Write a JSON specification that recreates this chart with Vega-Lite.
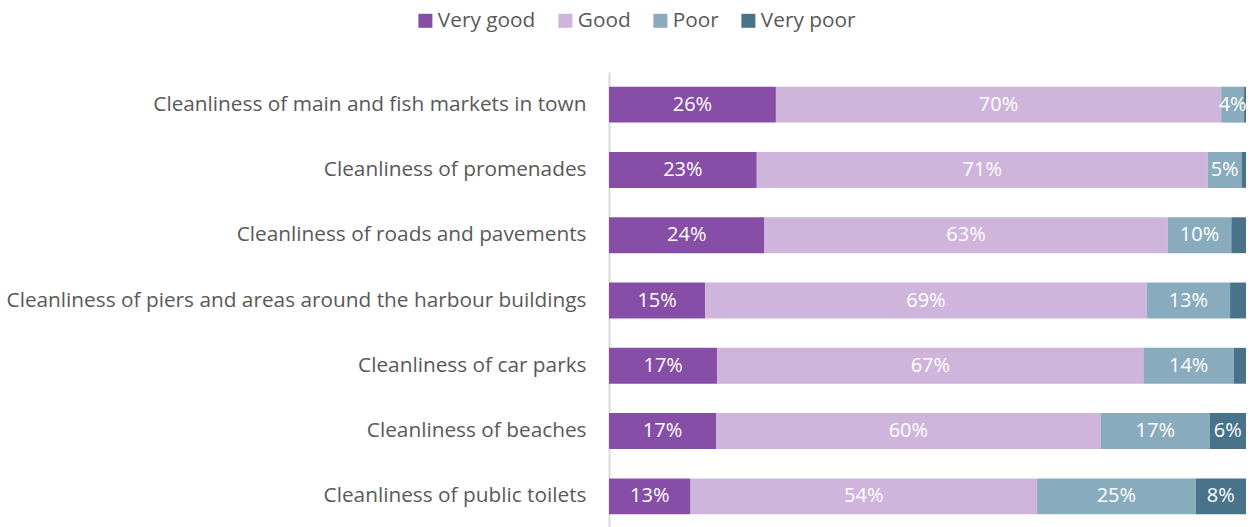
{
  "$schema": "https://vega.github.io/schema/vega-lite/v6.json",
  "width": 637,
  "height": 457,
  "autosize": {"type": "none"},
  "padding": {"left": 609, "top": 72, "right": 6, "bottom": 0},
  "background": "white",
  "config": {"font": "Open Sans", "view": {"stroke": null}},
  "data": {"values": [
    {"item": "Cleanliness of main and fish markets in town", "rating": "Very good", "rank": 1, "value": 0.262},
    {"item": "Cleanliness of main and fish markets in town", "rating": "Good", "rank": 2, "value": 0.699},
    {"item": "Cleanliness of main and fish markets in town", "rating": "Poor", "rank": 3, "value": 0.036},
    {"item": "Cleanliness of main and fish markets in town", "rating": "Very poor", "rank": 4, "value": 0.003},
    {"item": "Cleanliness of promenades", "rating": "Very good", "rank": 1, "value": 0.232},
    {"item": "Cleanliness of promenades", "rating": "Good", "rank": 2, "value": 0.708},
    {"item": "Cleanliness of promenades", "rating": "Poor", "rank": 3, "value": 0.053},
    {"item": "Cleanliness of promenades", "rating": "Very poor", "rank": 4, "value": 0.007},
    {"item": "Cleanliness of roads and pavements", "rating": "Very good", "rank": 1, "value": 0.244},
    {"item": "Cleanliness of roads and pavements", "rating": "Good", "rank": 2, "value": 0.633},
    {"item": "Cleanliness of roads and pavements", "rating": "Poor", "rank": 3, "value": 0.100},
    {"item": "Cleanliness of roads and pavements", "rating": "Very poor", "rank": 4, "value": 0.023},
    {"item": "Cleanliness of piers and areas around the harbour buildings", "rating": "Very good", "rank": 1, "value": 0.151},
    {"item": "Cleanliness of piers and areas around the harbour buildings", "rating": "Good", "rank": 2, "value": 0.693},
    {"item": "Cleanliness of piers and areas around the harbour buildings", "rating": "Poor", "rank": 3, "value": 0.131},
    {"item": "Cleanliness of piers and areas around the harbour buildings", "rating": "Very poor", "rank": 4, "value": 0.025},
    {"item": "Cleanliness of car parks", "rating": "Very good", "rank": 1, "value": 0.170},
    {"item": "Cleanliness of car parks", "rating": "Good", "rank": 2, "value": 0.669},
    {"item": "Cleanliness of car parks", "rating": "Poor", "rank": 3, "value": 0.142},
    {"item": "Cleanliness of car parks", "rating": "Very poor", "rank": 4, "value": 0.019},
    {"item": "Cleanliness of beaches", "rating": "Very good", "rank": 1, "value": 0.168},
    {"item": "Cleanliness of beaches", "rating": "Good", "rank": 2, "value": 0.604},
    {"item": "Cleanliness of beaches", "rating": "Poor", "rank": 3, "value": 0.171},
    {"item": "Cleanliness of beaches", "rating": "Very poor", "rank": 4, "value": 0.057},
    {"item": "Cleanliness of public toilets", "rating": "Very good", "rank": 1, "value": 0.128},
    {"item": "Cleanliness of public toilets", "rating": "Good", "rank": 2, "value": 0.544},
    {"item": "Cleanliness of public toilets", "rating": "Poor", "rank": 3, "value": 0.249},
    {"item": "Cleanliness of public toilets", "rating": "Very poor", "rank": 4, "value": 0.079}
  ]},
  "transform": [
    {"stack": "value", "groupby": ["item"], "sort": [{"field": "rank", "order": "ascending"}], "offset": "normalize", "as": ["v0", "v1"]}
  ],
  "encoding": {
    "y": {
      "field": "item",
      "type": "nominal",
      "sort": [
        "Cleanliness of main and fish markets in town",
        "Cleanliness of promenades",
        "Cleanliness of roads and pavements",
        "Cleanliness of piers and areas around the harbour buildings",
        "Cleanliness of car parks",
        "Cleanliness of beaches",
        "Cleanliness of public toilets"
      ],
      "scale": {"paddingInner": 0.45, "paddingOuter": 0.225},
      "axis": {
        "title": null,
        "ticks": false,
        "grid": false,
        "domainColor": "#d9d9d9",
        "domainWidth": 2,
        "labelFontSize": 20.8,
        "labelColor": "#595959",
        "labelPadding": 23,
        "labelLimit": 700
      }
    }
  },
  "layer": [
    {
      "mark": {"type": "bar"},
      "encoding": {
        "x": {"field": "v0", "type": "quantitative", "scale": {"domain": [0, 1]}, "axis": null},
        "x2": {"field": "v1"},
        "color": {
          "field": "rating",
          "type": "nominal",
          "scale": {
            "domain": ["Very good", "Good", "Poor", "Very poor"],
            "range": ["#864ea6", "#cfb5db", "#89abbe", "#49738a"]
          },
          "legend": {
            "title": null,
            "orient": "none",
            "direction": "horizontal",
            "legendX": -194,
            "legendY": -62,
            "symbolType": "square",
            "symbolSize": 196,
            "symbolStrokeWidth": 0,
            "labelFontSize": 20.8,
            "labelColor": "#595959",
            "labelOffset": 2,
            "columnPadding": 19
          }
        }
      }
    },
    {
      "transform": [
        {"filter": "datum.value >= 0.035"},
        {"fold": ["v0", "v1"], "as": ["edge", "pos"]},
        {"aggregate": [{"op": "mean", "field": "pos", "as": "mid"}], "groupby": ["item", "rating", "value"]}
      ],
      "mark": {"type": "text", "color": "white", "fontSize": 20, "baseline": "middle", "align": "center"},
      "encoding": {
        "x": {"field": "mid", "type": "quantitative"},
        "text": {"field": "value", "type": "quantitative", "format": ".0%"}
      }
    }
  ]
}
